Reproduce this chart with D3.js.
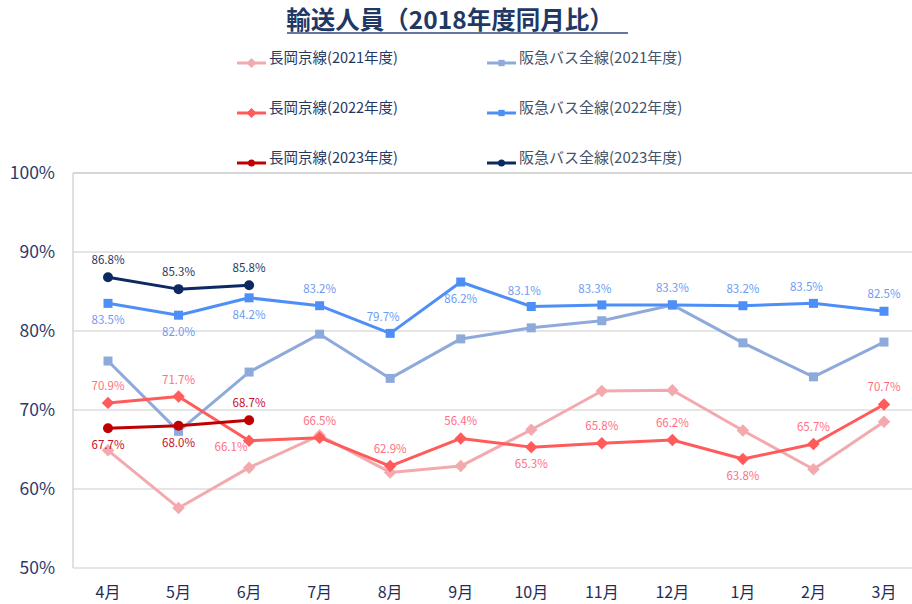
<!DOCTYPE html>
<html>
<head>
<meta charset="utf-8">
<script src="https://cdn.jsdelivr.net/npm/d3@7"></script>
<style>
  body { margin: 0; background: #fff; }
  text { font-family: "Noto Sans CJK JP", "Noto Sans", sans-serif; }
</style>
</head>
<body>
<div id="chart"></div>
<script>
// data
var months = ["4月", "5月", "6月", "7月", "8月", "9月", "10月", "11月", "12月", "1月", "2月", "3月"];
var yTicks = [50, 60, 70, 80, 90, 100];

var nagaoka2021 = [64.9, 57.6, 62.7, 66.8, 62.1, 62.9, 67.5, 72.4, 72.5, 67.4, 62.5, 68.5];
var nagaoka2022 = [70.9, 71.7, 66.1, 66.5, 62.9, 66.4, 65.3, 65.8, 66.2, 63.8, 65.7, 70.7];
var nagaoka2022Labels = ["70.9%", "71.7%", "66.1%", "66.5%", "62.9%", "56.4%", "65.3%", "65.8%", "66.2%", "63.8%", "65.7%", "70.7%"];
var nagaoka2023 = [67.7, 68.0, 68.7];
var bus2021 = [76.2, 67.3, 74.8, 79.6, 74.0, 79.0, 80.4, 81.3, 83.3, 78.5, 74.2, 78.6];
var bus2022 = [83.5, 82.0, 84.2, 83.2, 79.7, 86.2, 83.1, 83.3, 83.3, 83.2, 83.5, 82.5];
var bus2023 = [86.8, 85.3, 85.8];

// label placement (t = above, b = below, bl = below-left, tl = above-left)
var nagaoka2022Pos = ["t", "t", "bl", "t", "t", "t", "b", "t", "t", "b", "t", "t"];
var nagaoka2023Pos = ["b", "b", "t"];
var bus2022Pos = ["b", "b", "b", "t", "tl", "b", "tl", "tl", "t", "t", "tl", "t"];
var bus2023Pos = ["t", "t", "t"];

var series = [
  { name: "長岡京線(2021年度)", values: nagaoka2021, color: "#f3aaae", shape: "diamond" },
  { name: "阪急バス全線(2021年度)", values: bus2021, color: "#8eaadb", shape: "square" },
  { name: "長岡京線(2022年度)", values: nagaoka2022, color: "#ff5b5b", shape: "diamond",
    labels: nagaoka2022Labels, pos: nagaoka2022Pos, labelColor: "#ff6f84" },
  { name: "阪急バス全線(2022年度)", values: bus2022, color: "#4e8ff7", shape: "square",
    pos: bus2022Pos, labelColor: "#6e9cf0" },
  { name: "長岡京線(2023年度)", values: nagaoka2023, color: "#c00000", shape: "circle",
    pos: nagaoka2023Pos, labelColor: "#c8102e" },
  { name: "阪急バス全線(2023年度)", values: bus2023, color: "#0c2a61", shape: "circle",
    pos: bus2023Pos, labelColor: "#1f3864" }
];

var width = 912, height = 604;
var svg = d3.select("#chart").append("svg")
  .attr("width", width)
  .attr("height", height);

var x = d3.scalePoint().domain(months).range([108, 884]);
var y = d3.scaleLinear().domain([50, 100]).range([568, 173]);

// title
svg.append("text")
  .attr("x", 450).attr("y", 29)
  .attr("text-anchor", "middle")
  .style("font-size", "24.5px")
  .style("font-weight", "bold")
  .style("fill", "#1f3864")
  .text("輸送人員（2018年度同月比）");
svg.append("line")
  .attr("x1", 287).attr("x2", 628)
  .attr("y1", 33).attr("y2", 33)
  .style("stroke", "#2f4a80").style("stroke-width", 1.5);

// grid
svg.selectAll(".grid")
  .data(yTicks)
  .enter().append("line")
  .attr("x1", 73).attr("x2", width)
  .attr("y1", function(d) { return y(d); })
  .attr("y2", function(d) { return y(d); })
  .style("stroke", function(d) { return d === 100 ? "#c8c8c8" : "#dcdcdc"; })
  .style("stroke-width", 1.3);
svg.append("line")
  .attr("x1", 73).attr("x2", 73)
  .attr("y1", y(100)).attr("y2", y(50))
  .style("stroke", "#d0d0d0").style("stroke-width", 1.3);

// y axis labels
svg.selectAll(".ylab")
  .data(yTicks)
  .enter().append("text")
  .attr("x", 55)
  .attr("y", function(d) { return y(d); })
  .attr("dy", "0.35em")
  .attr("text-anchor", "end")
  .style("font-size", "17.5px")
  .style("fill", "#2b3a6b")
  .text(function(d) { return d + "%"; });

// x axis labels
svg.selectAll(".xlab")
  .data(months)
  .enter().append("text")
  .attr("x", function(d) { return x(d); })
  .attr("y", 592)
  .attr("dy", "0.35em")
  .attr("text-anchor", "middle")
  .style("font-size", "16px")
  .style("fill", "#1f2d5a")
  .text(function(d) { return d; });

function marker(g, shape, color, size) {
  if (shape === "diamond") {
    g.append("path")
      .attr("d", d3.symbol().type(d3.symbolDiamond2).size(size * 9)())
      .style("fill", color);
  } else if (shape === "square") {
    g.append("rect")
      .attr("x", -size * 0.45).attr("y", -size * 0.45)
      .attr("width", size * 0.9).attr("height", size * 0.9)
      .style("fill", color);
  } else {
    g.append("circle").attr("r", size * 0.5).style("fill", color);
  }
}

var line = d3.line()
  .x(function(d, i) { return x(months[i]); })
  .y(function(d) { return y(d); });

series.forEach(function(s) {
  svg.append("path")
    .datum(s.values)
    .attr("d", line)
    .style("fill", "none")
    .style("stroke", s.color)
    .style("stroke-width", 3)
    .style("stroke-linejoin", "round");
  s.values.forEach(function(v, i) {
    var g = svg.append("g")
      .attr("transform", "translate(" + x(months[i]) + "," + y(v) + ")");
    marker(g, s.shape, s.color, s.shape === "diamond" ? 11 : 10);
  });
});

// data labels
series.forEach(function(s) {
  if (!s.pos) return;
  s.values.forEach(function(v, i) {
    var p = s.pos[i];
    var dx = 0, dy = 0;
    if (p === "t") dy = -17;
    if (p === "b") dy = 17;
    if (p === "tl") { dy = -16; dx = -7; }
    if (p === "bl") { dy = 6; dx = -18; }
    svg.append("text")
      .attr("x", x(months[i]) + dx)
      .attr("y", y(v) + dy)
      .attr("dy", "0.35em")
      .attr("text-anchor", "middle")
      .style("font-size", "11.5px")
      .style("fill", s.labelColor)
      .text(s.labels ? s.labels[i] : v.toFixed(1) + "%");
  });
});

// legend
var legendPos = [
  [237, 63], [487, 63],
  [237, 113], [487, 113],
  [237, 163], [487, 163]
];
series.forEach(function(s, i) {
  var lx = legendPos[i][0], ly = legendPos[i][1];
  svg.append("line")
    .attr("x1", lx).attr("x2", lx + 29)
    .attr("y1", ly).attr("y2", ly)
    .style("stroke", s.color).style("stroke-width", 3);
  var g = svg.append("g").attr("transform", "translate(" + (lx + 14.5) + "," + ly + ")");
  marker(g, s.shape, s.color, 7);
  svg.append("text")
    .attr("x", lx + 32)
    .attr("y", ly - 5)
    .attr("dy", "0.35em")
    .style("font-size", i % 2 === 0 ? "14.5px" : "15px")
    .style("fill", i % 2 === 0 ? "#1f3864" : "#44546a")
    .text(s.name);
});
</script>
</body>
</html>
